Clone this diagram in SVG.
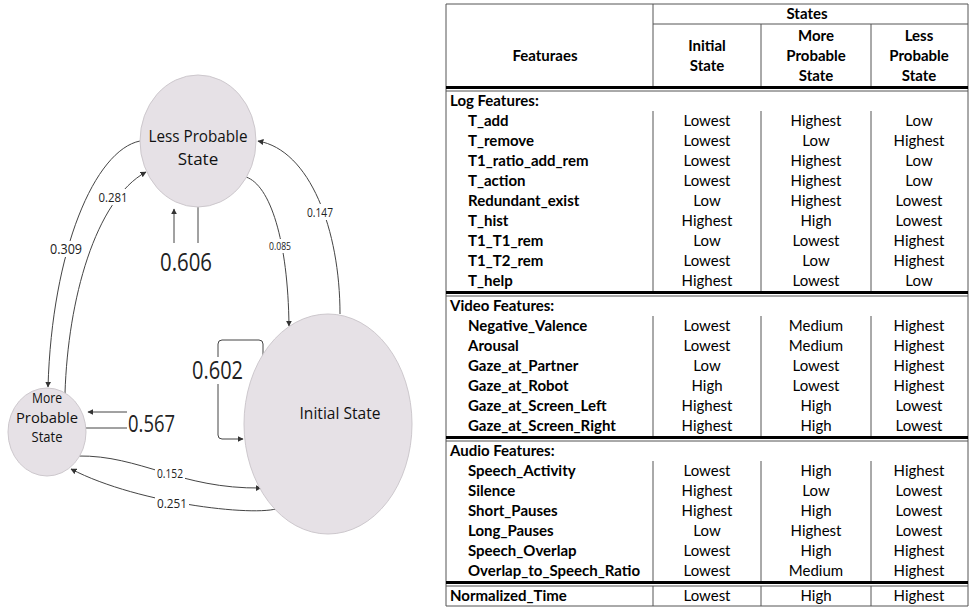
<svg xmlns="http://www.w3.org/2000/svg" width="969" height="608" viewBox="0 0 969 608">
<defs>
<marker id="arr" viewBox="0 0 10 10" refX="9" refY="5" markerWidth="6" markerHeight="6" orient="auto" markerUnits="userSpaceOnUse">
<path d="M0,0 L10,5 L0,10 z" fill="#333"/>
</marker>
<style>
.node{fill:#e6e1e6;stroke:#cdc8cd;stroke-width:1}
.nt{font-family:"Open Sans","Noto Sans",sans-serif;font-weight:500;fill:#111;text-anchor:middle}
.e{fill:none;stroke:#444;stroke-width:1}
.lb{font-family:"Open Sans","Noto Sans",sans-serif;fill:#222;text-anchor:middle}
.bg{fill:#fff}
.tl{stroke:#555;stroke-width:1;fill:none}
.tk{stroke:#000;stroke-width:3;fill:none}
.th{font-family:Lato,"Liberation Sans",sans-serif;font-size:15px;font-weight:bold;fill:#000;text-anchor:middle}
.f{font-family:Lato,"Liberation Sans",sans-serif;font-size:15px;font-weight:bold;fill:#000}
.v{font-family:Lato,"Liberation Sans",sans-serif;font-size:15px;fill:#000;text-anchor:middle}
</style>
</defs>
<rect width="969" height="608" fill="#fff"/>

<g id="connectors">
<path class="e" d="M140,141 C95,150 52,250 48,387" marker-end="url(#arr)"/>
<path class="e" d="M65,393 C68,300 95,200 146,172" marker-end="url(#arr)"/>
<path class="e" d="M198,207 L198,243"/>
<path class="e" d="M174,243 L174,209" marker-end="url(#arr)"/>
<path class="e" d="M246,177 C270,185 288,240 289,326" marker-end="url(#arr)"/>
<path class="e" d="M340,314 C340,230 310,150 258,141" marker-end="url(#arr)"/>
<path class="e" d="M263,357 L263,344 Q263,340 259,340 L222,340 Q218,340 218,344 L218,435 Q218,439 222,439 L243,439" marker-end="url(#arr)"/>
<path class="e" d="M127,412 L88,412" marker-end="url(#arr)"/>
<path class="e" d="M86,428 L127,428"/>
<path class="e" d="M78,456 C140,455 180,489 261,488" marker-end="url(#arr)"/>
<path class="e" d="M281,507 C265,518 140,505 71,469" marker-end="url(#arr)"/>

<rect class="bg" x="48" y="241" width="36" height="16"/>
<text class="lb" x="66" y="254" font-size="14" textLength="32" lengthAdjust="spacingAndGlyphs">0.309</text>
<rect class="bg" x="96" y="189" width="34" height="16"/>
<text class="lb" x="113" y="202" font-size="13" textLength="29" lengthAdjust="spacingAndGlyphs">0.281</text>
<rect class="bg" x="267" y="239" width="26" height="14"/>
<text class="lb" x="280" y="250" font-size="11" textLength="22" lengthAdjust="spacingAndGlyphs">0.085</text>
<rect class="bg" x="305" y="204" width="30" height="16"/>
<text class="lb" x="320" y="216.5" font-size="12.5" textLength="26" lengthAdjust="spacingAndGlyphs">0.147</text>
<rect class="bg" x="155" y="465" width="30" height="16"/>
<text class="lb" x="170" y="477.5" font-size="12.5" textLength="26" lengthAdjust="spacingAndGlyphs">0.152</text>
<rect class="bg" x="155" y="495" width="34" height="16"/>
<text class="lb" x="172" y="508" font-size="13.5" textLength="30" lengthAdjust="spacingAndGlyphs">0.251</text>
<rect class="bg" x="158" y="250" width="56" height="26"/>
<text class="lb" x="186" y="271" font-size="25" textLength="52" lengthAdjust="spacingAndGlyphs">0.606</text>
<rect class="bg" x="190" y="357" width="56" height="27"/>
<text class="lb" x="217.5" y="379" font-size="25" textLength="51" lengthAdjust="spacingAndGlyphs">0.602</text>
<text class="lb" x="151.5" y="432" font-size="24" textLength="47" lengthAdjust="spacingAndGlyphs">0.567</text>
</g>

<g id="less-probable">
<ellipse class="node" cx="198" cy="141" rx="58" ry="66"/>
<text class="nt" x="198" y="142" font-size="17" textLength="99" lengthAdjust="spacingAndGlyphs">Less Probable</text>
<text class="nt" x="198" y="165" font-size="17">State</text>
</g>
<g id="initial">
<ellipse class="node" cx="328" cy="424" rx="84" ry="110"/>
<text class="nt" x="340" y="419" font-size="17" textLength="81" lengthAdjust="spacingAndGlyphs">Initial State</text>
</g>
<g id="more-probable">
<ellipse class="node" cx="47" cy="432" rx="39" ry="44"/>
<text class="nt" x="47" y="403" font-size="15" textLength="30" lengthAdjust="spacingAndGlyphs">More</text>
<text class="nt" x="47" y="423" font-size="15" textLength="62" lengthAdjust="spacingAndGlyphs">Probable</text>
<text class="nt" x="47" y="442" font-size="15" textLength="31" lengthAdjust="spacingAndGlyphs">State</text>
</g>

<g id="table">
<path class="tl" d="M446,4 H968 M446,4 V606 M968,4 V606 M446,606 H968 M653,24 H968 M653,4 V87 M761,24 V87 M871,24 V87"/>
<path class="tk" d="M446,87.5 H968 M446,292.5 H968 M446,437.5 H968 M446,582.5 H968"/>
<path class="tl" d="M446,91 H968 M446,296 H968 M446,441 H968 M446,586 H968"/>
<path class="tl" d="M653,111 V291 M761,111 V291 M871,111 V291 M653,316 V436 M761,316 V436 M871,316 V436 M653,461 V581 M761,461 V581 M871,461 V581 M653,586 V606 M761,586 V606 M871,586 V606"/>

<text class="th" x="545" y="61">Featuraes</text>
<text class="th" x="807" y="19">States</text>
<text class="th" x="707" y="51">Initial</text>
<text class="th" x="707" y="71">State</text>
<text class="th" x="816" y="41">More</text>
<text class="th" x="816" y="61">Probable</text>
<text class="th" x="816" y="81">State</text>
<text class="th" x="919" y="41">Less</text>
<text class="th" x="919" y="61">Probable</text>
<text class="th" x="919" y="81">State</text>

<text class="f" x="450" y="106">Log Features:</text>
<text class="f" x="468" y="126">T_add</text><text class="v" x="707" y="126">Lowest</text><text class="v" x="816" y="126">Highest</text><text class="v" x="919" y="126">Low</text>
<text class="f" x="468" y="146">T_remove</text><text class="v" x="707" y="146">Lowest</text><text class="v" x="816" y="146">Low</text><text class="v" x="919" y="146">Highest</text>
<text class="f" x="468" y="166">T1_ratio_add_rem</text><text class="v" x="707" y="166">Lowest</text><text class="v" x="816" y="166">Highest</text><text class="v" x="919" y="166">Low</text>
<text class="f" x="468" y="186">T_action</text><text class="v" x="707" y="186">Lowest</text><text class="v" x="816" y="186">Highest</text><text class="v" x="919" y="186">Low</text>
<text class="f" x="468" y="206">Redundant_exist</text><text class="v" x="707" y="206">Low</text><text class="v" x="816" y="206">Highest</text><text class="v" x="919" y="206">Lowest</text>
<text class="f" x="468" y="226">T_hist</text><text class="v" x="707" y="226">Highest</text><text class="v" x="816" y="226">High</text><text class="v" x="919" y="226">Lowest</text>
<text class="f" x="468" y="246">T1_T1_rem</text><text class="v" x="707" y="246">Low</text><text class="v" x="816" y="246">Lowest</text><text class="v" x="919" y="246">Highest</text>
<text class="f" x="468" y="266">T1_T2_rem</text><text class="v" x="707" y="266">Lowest</text><text class="v" x="816" y="266">Low</text><text class="v" x="919" y="266">Highest</text>
<text class="f" x="468" y="286">T_help</text><text class="v" x="707" y="286">Highest</text><text class="v" x="816" y="286">Lowest</text><text class="v" x="919" y="286">Low</text>

<text class="f" x="450" y="311">Video Features:</text>
<text class="f" x="468" y="331">Negative_Valence</text><text class="v" x="707" y="331">Lowest</text><text class="v" x="816" y="331">Medium</text><text class="v" x="919" y="331">Highest</text>
<text class="f" x="468" y="351">Arousal</text><text class="v" x="707" y="351">Lowest</text><text class="v" x="816" y="351">Medium</text><text class="v" x="919" y="351">Highest</text>
<text class="f" x="468" y="371">Gaze_at_Partner</text><text class="v" x="707" y="371">Low</text><text class="v" x="816" y="371">Lowest</text><text class="v" x="919" y="371">Highest</text>
<text class="f" x="468" y="391">Gaze_at_Robot</text><text class="v" x="707" y="391">High</text><text class="v" x="816" y="391">Lowest</text><text class="v" x="919" y="391">Highest</text>
<text class="f" x="468" y="411">Gaze_at_Screen_Left</text><text class="v" x="707" y="411">Highest</text><text class="v" x="816" y="411">High</text><text class="v" x="919" y="411">Lowest</text>
<text class="f" x="468" y="431">Gaze_at_Screen_Right</text><text class="v" x="707" y="431">Highest</text><text class="v" x="816" y="431">High</text><text class="v" x="919" y="431">Lowest</text>

<text class="f" x="450" y="456">Audio Features:</text>
<text class="f" x="468" y="476">Speech_Activity</text><text class="v" x="707" y="476">Lowest</text><text class="v" x="816" y="476">High</text><text class="v" x="919" y="476">Highest</text>
<text class="f" x="468" y="496">Silence</text><text class="v" x="707" y="496">Highest</text><text class="v" x="816" y="496">Low</text><text class="v" x="919" y="496">Lowest</text>
<text class="f" x="468" y="516">Short_Pauses</text><text class="v" x="707" y="516">Highest</text><text class="v" x="816" y="516">High</text><text class="v" x="919" y="516">Lowest</text>
<text class="f" x="468" y="536">Long_Pauses</text><text class="v" x="707" y="536">Low</text><text class="v" x="816" y="536">Highest</text><text class="v" x="919" y="536">Lowest</text>
<text class="f" x="468" y="556">Speech_Overlap</text><text class="v" x="707" y="556">Lowest</text><text class="v" x="816" y="556">High</text><text class="v" x="919" y="556">Highest</text>
<text class="f" x="468" y="576">Overlap_to_Speech_Ratio</text><text class="v" x="707" y="576">Lowest</text><text class="v" x="816" y="576">Medium</text><text class="v" x="919" y="576">Highest</text>

<text class="f" x="450" y="601">Normalized_Time</text><text class="v" x="707" y="601">Lowest</text><text class="v" x="816" y="601">High</text><text class="v" x="919" y="601">Highest</text>
</g>
</svg>
